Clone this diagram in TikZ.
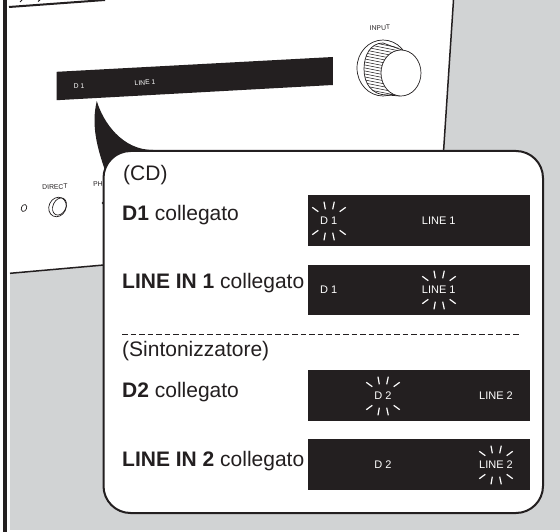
\documentclass[tikz,border=0pt]{standalone}
\usepackage{fontspec}
\setmainfont{Liberation Sans}
\definecolor{ink}{HTML}{231F20}
\definecolor{bggray}{HTML}{D1D3D4}
\tikzset{
  x=1pt,y=-1pt,
  lcd/.style={fill=ink,draw=none},
  lcdtext/.style={text=white,font=\fontsize{11}{11}\selectfont,inner sep=0pt,anchor=center},
  paneltext/.style={text=ink,font=\fontsize{6.8}{6.8}\selectfont,inner sep=0pt,anchor=center,rotate=3},
  label/.style={text=ink,font=\fontsize{21}{21}\selectfont,inner sep=0pt,anchor=base west},
  sparks/.pic={
    \foreach \a/\b/\c/\d in {-16.7/-13.7/-10.7/-9.3,-5/-19.3/-3.7/-11.7,5.3/-19.3/3.7/-11.7,16.7/-13.7/10.7/-9.3,
                             -16.7/13.7/-10.7/9.3,-5/19.3/-3.7/11.7,5.3/19.3/3.7/11.7,16.7/13.7/10.7/9.3}
      \draw[white,line width=1.2pt] (\a,\b) -- (\c,\d);
  }
}
\begin{document}
\begin{tikzpicture}
\useasboundingbox (0,0) rectangle (560,532);
\fill[white] (0,0) rectangle (560,532);
\fill[bggray] (10,0) rectangle (560,530);
% front panel
\fill[white] (10,0) -- (453.5,0) -- (443.5,152) -- (103,265) -- (10,273) -- cycle;
\draw[ink,line width=1.5pt] (453.5,0) -- (443.5,152);
\draw[ink,line width=1.5pt] (10,273.3) -- (104,265);
\draw[ink,line width=2pt] (9,7) -- (105,0);
\draw[ink,line width=1pt] (20,2) -- (22,0) (38,1.5) -- (40,0);
\draw[ink,line width=4pt] (5,0) -- (5,532);
% panel display
\fill[lcd] (56.7,71.8) -- (332.8,57) -- (332.8,85) -- (56.7,100.2) -- cycle;
\node[paneltext,text=white] (d1) at (79,86) {D 1};
\node[paneltext,text=white] (l1) at (145,82.5) {LINE 1};
% INPUT knob
\node[paneltext] (inp) at (380,28) {INPUT};
\draw[ink,line width=.7pt,fill=white] (383,68) ellipse [x radius=26,y radius=28];
\begin{scope}
  \clip (383,43) .. controls (370,43) and (364,56) .. (364,69) .. controls (364,84) and (372,95) .. (387,95) -- (405,96) -- (421,70) -- (405,50) -- cycle;
  \foreach \k in {0,...,20} \draw[ink,line width=.55pt] (355,{36+3*\k}) -- (415,{48+3*\k});
\end{scope}
\draw[ink,line width=.7pt] (383,43) .. controls (370,43) and (364,56) .. (364,69) .. controls (364,84) and (372,95) .. (387,95) -- (400,96);
\draw[ink,line width=.7pt] (383,43) -- (402,50);
\draw[ink,line width=.7pt,fill=white] (401,73) ellipse [x radius=20,y radius=23];
% small controls
\node[paneltext] (dir) at (55,187) {DIRECT};
\node[paneltext,anchor=west] (pho) at (93,184.5) {PH};
\draw[ink,line width=.7pt,rotate around={-25:(24,208)}] (24,208) ellipse [x radius=2.6,y radius=3.6];
\draw[ink,line width=.7pt,rotate around={-25:(57.5,207)}] (57.5,207) ellipse [x radius=8.5,y radius=10];
\draw[ink,line width=.7pt,rotate around={-25:(59.5,206.5)}] (59.5,206.5) ellipse [x radius=6.5,y radius=9];
% callout tail
\fill[ink] (96.8,101) .. controls (103,122) and (122,150) .. (153,150) -- (106,173) .. controls (97,148) and (91,125) .. (96.8,101) -- cycle;
\fill[ink] (103,203) circle (1.5);
% callout
\draw[ink,line width=2pt,fill=white,rounded corners=27pt] (103.5,151) rectangle (543,513);
% texts
\node[label] (cd) at (123,181) {(CD)};
\node[label] (t1) at (122,220) {\textbf{D1} collegato};
\node[label] (t2) at (122,288.5) {\textbf{LINE IN 1} collegato};
\node[label] (sint) at (122,356) {(Sintonizzatore)};
\node[label] (t3) at (122,397.5) {\textbf{D2} collegato};
\node[label] (t4) at (122,466) {\textbf{LINE IN 2} collegato};
\draw[ink,line width=.5pt,dash pattern=on 5.5pt off 3pt] (122,334) -- (520,334);
% displays
\fill[lcd] (308.3,195.3) rectangle (530.3,246);
\node[lcdtext] (r1a) at (328.7,221) {D 1};
\node[lcdtext] (r1b) at (438.7,221) {LINE 1};
\pic at (329,221) {sparks};
\fill[lcd] (308.3,264.6) rectangle (530.3,315);
\node[lcdtext] (r2a) at (328.7,290) {D 1};
\node[lcdtext] (r2b) at (438.7,290) {LINE 1};
\pic at (439,290) {sparks};
\fill[lcd] (308.3,370) rectangle (530.3,420.5);
\node[lcdtext] (r3a) at (383,396) {D 2};
\node[lcdtext] (r3b) at (496,396) {LINE 2};
\pic at (383,396) {sparks};
\fill[lcd] (308.3,439.3) rectangle (530.3,490);
\node[lcdtext] (r4a) at (383,465) {D 2};
\node[lcdtext] (r4b) at (496,465) {LINE 2};
\pic at (496,465) {sparks};
\end{tikzpicture}
\end{document}
